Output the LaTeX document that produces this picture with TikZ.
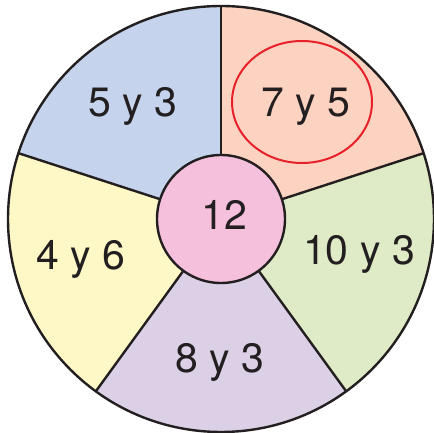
\documentclass[tikz,border=0pt]{standalone}
\usepackage{fontspec}
\setmainfont{TeX Gyre Heros}
\usetikzlibrary{shapes.geometric}
\definecolor{cBlue}{HTML}{C5D4EC}
\definecolor{cPeach}{HTML}{FCD3C0}
\definecolor{cGreen}{HTML}{DFEBC6}
\definecolor{cLav}{HTML}{DCD0E6}
\definecolor{cYel}{HTML}{FEF8C6}
\definecolor{cPink}{HTML}{F4C0DC}
\definecolor{cRed}{HTML}{E8202A}
\definecolor{cInk}{HTML}{231F20}
\begin{document}
\begin{tikzpicture}[x=1pt,y=1pt,
  sector/.style={draw=cInk,line width=2.4pt,line join=round},
  lbl/.style={font=\fontsize{41}{41}\selectfont,text=cInk,anchor=base,inner sep=0pt}]
\useasboundingbox (0,0) rectangle (434,433);
\coordinate (C) at (221,214);
\def\R{213}
\fill[cPeach] (C) -- ++(18:\R) arc[start angle=18,end angle=90,radius=\R] -- cycle;
\fill[cBlue] (C) -- ++(90:\R) arc[start angle=90,end angle=162,radius=\R] -- cycle;
\fill[cYel] (C) -- ++(162:\R) arc[start angle=162,end angle=234,radius=\R] -- cycle;
\fill[cLav] (C) -- ++(234:\R) arc[start angle=234,end angle=306,radius=\R] -- cycle;
\fill[cGreen] (C) -- ++(306:\R) arc[start angle=306,end angle=378,radius=\R] -- cycle;
\foreach \a in {18,90,162,234,306}{
  \draw[sector] (C) -- ++(\a:\R);
}
\draw[sector] (C) circle[radius=\R];
\node[circle,draw=cInk,line width=2.4pt,fill=cPink,minimum size=128pt,inner sep=0pt] (hub) at (C) {};
\node[lbl] (t12) at (224,203) {12};
\node[lbl] (t53) at (133,316) {5 y 3};
\node[lbl] (t75) at (306,316) {7 y 5};
\node[lbl] (t103) at (359,168) {10 y 3};
\node[lbl] (t46) at (81,163) {4 y 6};
\node[lbl] (t83) at (220,60) {8 y 3};
\node[ellipse,draw=cRed,line width=2pt,minimum width=140pt,minimum height=122pt,inner sep=0pt] (ring) at (302,331) {};
\end{tikzpicture}
\end{document}
